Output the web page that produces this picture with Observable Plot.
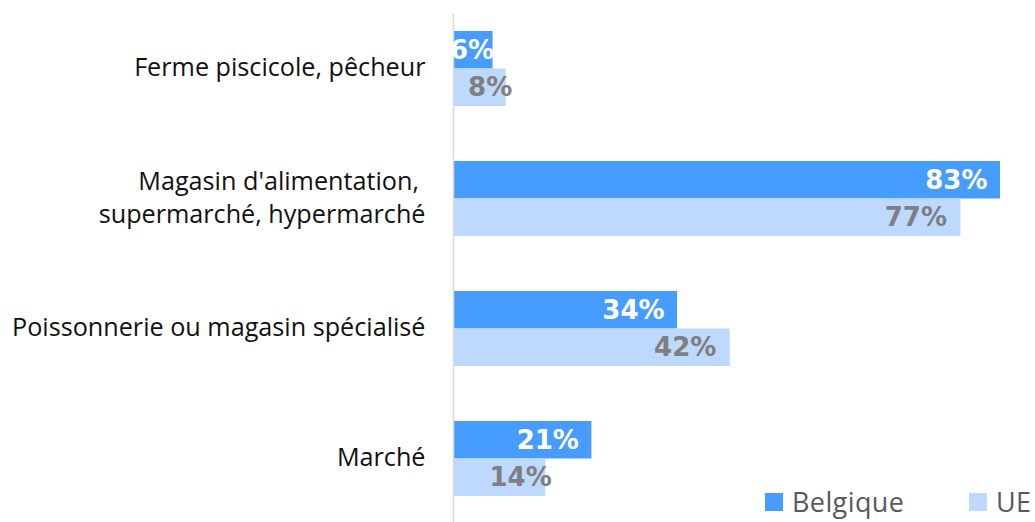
<!DOCTYPE html>
<html>
<head>
<meta charset="utf-8">
<script src="https://cdn.jsdelivr.net/npm/d3@7"></script>
<script src="https://cdn.jsdelivr.net/npm/@observablehq/plot@0.6"></script>
<style>
  html, body { margin: 0; padding: 0; background: #fff; }
  #wrap { position: relative; width: 1035px; height: 522px; overflow: hidden; }
  .legend { position: absolute; top: 487px; height: 30px; line-height: 28px; font-family: "Open Sans", sans-serif; font-size: 27px; letter-spacing: 0.4px; color: #595959; display: flex; align-items: center; }
  .legend .sw { width: 18px; height: 18px; margin-right: 9px; }
</style>
</head>
<body>
<div id="wrap"></div>
<script>
const categories = ["Ferme piscicole, pêcheur", "Magasin d'alimentation, \nsupermarché, hypermarché", "Poissonnerie ou magasin spécialisé", "Marché"];
const series = ["Belgique", "UE"];
const belgique = [6, 83, 34, 21];
const ue = [8, 77, 42, 14];
const colors = {Belgique: "#479dff", UE: "#bdd9ff"};

const rows = [];
categories.forEach((c, i) => {
  rows.push({category: c, series: "Belgique", value: belgique[i]});
  rows.push({category: c, series: "UE", value: ue[i]});
});
const bel = rows.filter(d => d.series === "Belgique");
const eu = rows.filter(d => d.series === "UE");
const half = 37.5;
const valueFont = {fontWeight: "bold", fontSize: 26, fontFamily: "'DejaVu Sans', sans-serif", text: d => d.value + "%"};

const chart = Plot.plot({
  width: 1035,
  height: 522,
  marginLeft: 453,
  marginRight: 35,
  marginTop: 14,
  marginBottom: 0,
  x: {domain: [0, 83], axis: null},
  y: {domain: categories, paddingInner: 0.4245, paddingOuter: 0.161, align: 0.405, axis: null},
  style: {fontFamily: "'Open Sans', sans-serif", background: "white"},
  marks: [
    Plot.barX(bel, {x: "value", y: "category", fill: colors.Belgique, insetBottom: half}),
    Plot.barX(eu, {x: "value", y: "category", fill: colors.UE, insetTop: half}),
    Plot.ruleX([0], {stroke: "#d9d9d9", strokeWidth: 1.5}),
    Plot.text(categories, {y: d => d, frameAnchor: "left", dx: -28, dy: -3, textAnchor: "end", fontSize: 25.2, fill: "#111", lineHeight: 1.3}),
    Plot.text(bel.filter(d => d.value >= 15), {x: "value", y: "category", dy: -half / 2, dx: -13, textAnchor: "end", fill: "white", ...valueFont}),
    Plot.text(bel.filter(d => d.value < 15), {x: "value", y: "category", dy: -half / 2, dx: 1, textAnchor: "end", fill: "white", ...valueFont}),
    Plot.text(eu.filter(d => d.value >= 15), {x: "value", y: "category", dy: half / 2, dx: -14, textAnchor: "end", fill: "#7f7f7f", ...valueFont}),
    Plot.text(eu.filter(d => d.value < 15), {x: "value", y: "category", dy: half / 2, dx: 6, textAnchor: "end", fill: "#7f7f7f", ...valueFont})
  ]
});
const wrap = document.getElementById("wrap");
wrap.appendChild(chart);

const legendPos = {Belgique: 765, UE: 969};
series.forEach(s => {
  const item = document.createElement("div");
  item.className = "legend";
  item.style.left = legendPos[s] + "px";
  item.innerHTML = `<div class="sw" style="background:${colors[s]}"></div><span>${s}</span>`;
  wrap.appendChild(item);
});
</script>
</body>
</html>
